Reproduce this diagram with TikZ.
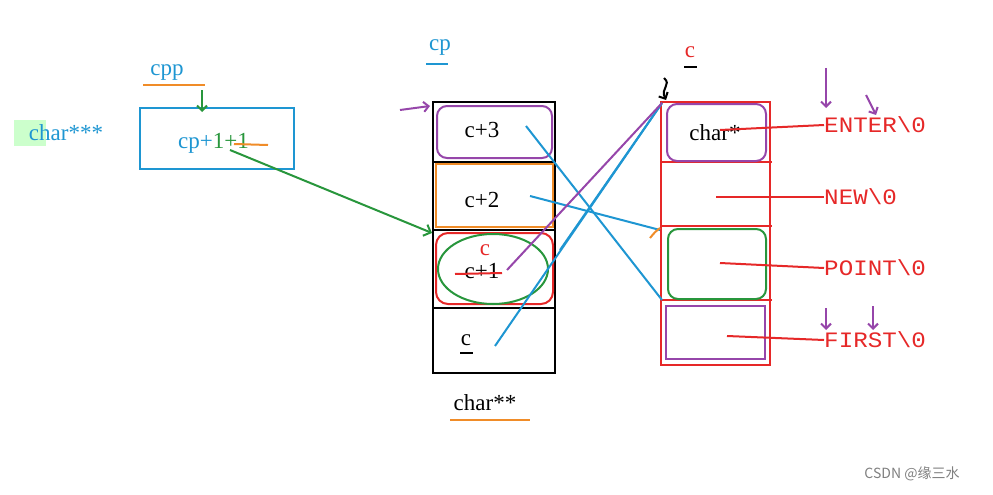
\documentclass[tikz,border=0pt]{standalone}
\usepackage{fontspec}
\setmainfont{Liberation Serif}
\newfontfamily\cjk{Noto Sans CJK SC}
\newfontfamily\monof{Liberation Mono}
\usetikzlibrary{arrows.meta}
\definecolor{cblue}{RGB}{30,150,210}
\definecolor{cgreen}{RGB}{40,150,60}
\definecolor{cred}{RGB}{230,40,40}
\definecolor{corange}{RGB}{240,140,40}
\definecolor{cpurple}{RGB}{150,70,170}
\tikzset{lbl/.style={font=\fontsize{23}{23}\selectfont, inner sep=0pt},
 rlbl/.style={font=\monof\fontsize{22}{22}\selectfont, text=cred, inner sep=0pt, anchor=west, xscale=1.1},
 pen/.style={line width=2pt}}
\begin{document}
\begin{tikzpicture}[x=1pt,y=-1pt]
\useasboundingbox (0,0) rectangle (993,495);
\fill[white] (0,0) rectangle (993,495);
% left
\fill[green!20] (14,120) rectangle (46,146);
\node[lbl,text=cblue] (t3) at (66,133) {char***};
\node[lbl,text=cblue] (cpp) at (167,73) {cpp};
\draw[corange,pen] (143,85) -- (205,85);
\draw[cblue,pen] (140,108) rectangle (294,169);
\node[lbl,anchor=west,text=cblue] (cpe) at (178,143) {cp+\textcolor{cgreen}{1+1}};
\draw[corange,pen] (234,144) -- (268,145);
\draw[cgreen,pen,-{Straight Barb[length=5pt]}] (202,90) -- (202,112);
% middle
\draw[black,pen] (433,102) rectangle (555,373);
\foreach \y in {162,230,308} \draw[black,pen] (433,\y) -- (555,\y);
\draw[cpurple,pen,rounded corners=10pt] (437,106) rectangle (552,158);
\draw[corange,line width=2.8pt] (436,164) rectangle (553,227);
\draw[cred,pen,rounded corners=12pt] (436,233) rectangle (553,304);
\draw[cgreen,pen] (493,269) ellipse (55 and 35);
\node[lbl] (c3) at (482,130) {c+3};
\node[lbl] (c2) at (482,200) {c+2};
\node[lbl,text=cred] (cc) at (485,250) {c};
\node[lbl] (c1) at (482,271) {c+1};
\draw[cred,pen] (455,274) -- (502,273);
\node[lbl] (c0) at (466,340) {c};
\draw[black,pen] (460,353) -- (473,353);
\node[lbl,text=cblue] (cp) at (440,48) {cp};
\draw[cblue,pen] (426,64) -- (448,64);
\node[lbl] (t2) at (485,403) {char**};
\draw[corange,pen] (450,420) -- (530,420);
\draw[cpurple,pen,-{Straight Barb[length=5pt]}] (400,110) -- (430,106);
% right
\draw[cred,pen] (661,102) rectangle (770,365);
\foreach \y in {162,226,300} \draw[cred,pen] (661,\y) -- (772,\y);
\draw[cpurple,pen,rounded corners=10pt] (667,104) rectangle (766,161);
\draw[cgreen,pen,rounded corners=10pt] (668,229) rectangle (766,299);
\draw[cpurple,pen] (666,306) rectangle (765,359);
\node[lbl] (t1) at (715,133) {char*};
\node[lbl,text=cred] (cr) at (690,52) {c};
\draw[black,pen] (684,67) -- (697,67);
\draw[black,pen,-{Straight Barb[length=5pt]}] (664,78) .. controls (672,85) and (660,88) .. (666,100);
\coordinate (r0) at (662,103); \coordinate (r2) at (660,230); \coordinate (r3) at (662,300);
\node[rlbl] (e) at (824,125) {ENTER\textbackslash0};
\node[rlbl] (n) at (824,197) {NEW\textbackslash0};
\node[rlbl] (p) at (824,268) {POINT\textbackslash0};
\node[rlbl] (f) at (824,340) {FIRST\textbackslash0};
\draw[cred,pen] (720,130) -- (e.west);
\draw[cred,pen] (716,197) -- (n.west);
\draw[cred,pen] (720,263) -- (p.west);
\draw[cred,pen] (727,336) -- (f.west);
\foreach \a/\b/\c/\d in {826/68/826/108, 866/95/876/115, 826/308/826/330, 873/306/873/330}
  \draw[cpurple,pen,-{Straight Barb[length=5pt]}] (\a,\b) -- (\c,\d);
% crossing lines
\draw[cblue,pen] (526,126) -- (r3);
\draw[cblue,pen] (530,196) -- (r2);
\draw[cblue,pen] (495,346) -- (r0);
\draw[cblue,pen] (560,250) -- (r0);
\draw[cpurple,pen] (507,270) -- (r0);
\draw[corange,pen] (650,238) .. controls (655,232) .. (660,228);
% green arrow
\draw[cgreen,pen,-{Straight Barb[length=6pt]}] (230,150) -- (432,233);
\node[font=\cjk\fontsize{14}{14}\selectfont,text=gray] (wm) at (912,474) {CSDN @缘三水};
\end{tikzpicture}
\end{document}
